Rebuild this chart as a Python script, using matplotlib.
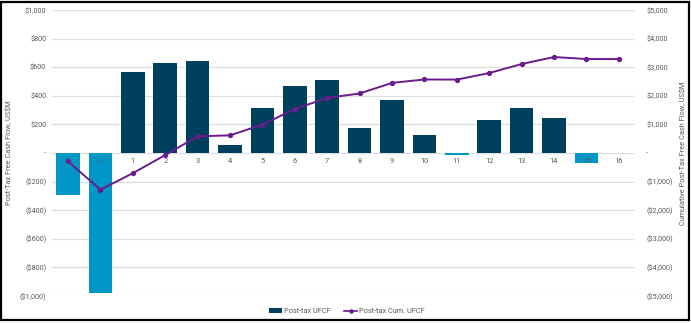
import matplotlib
matplotlib.use("Agg")
import matplotlib.pyplot as plt
from matplotlib.lines import Line2D
from matplotlib.patches import Patch, Rectangle
from matplotlib.ticker import FuncFormatter

plt.rcParams["font.family"] = ["Roboto", "DejaVu Sans"]

# Project years and post-tax unlevered free cash flow, US$M
years = ["-2", "-1", "1", "2", "3", "4", "5", "6", "7", "8",
         "9", "10", "11", "12", "13", "14", "15", "16"]
ufcf = [-290, -980, 566, 629, 641, 56, 312, 471, 513, 177,
        368, 126, -12, 231, 317, 243, -70, 0]
cum_ufcf = [-290, -1280, -705, -70, 585, 620, 995, 1540, 1930, 2085,
            2455, 2575, 2570, 2800, 3115, 3360, 3290, 3290]

DARK = "#00405f"
LIGHT = "#0096c8"
PURPLE = "#6a1b8c"
GRID = "#dedede"
TEXT = "#595959"


def money(v, _pos):
    if abs(v) < 1e-9:
        return "-"
    s = f"${abs(v):,.0f}"
    return f"({s})" if v < 0 else s


fig = plt.figure(figsize=(6.91, 3.23), dpi=100)
ax = fig.add_axes([0.075, 0.0836, 0.844, 0.885])
ax2 = ax.twinx()

x = list(range(len(years)))
colors = [DARK if v >= 0 else LIGHT for v in ufcf]
ax.bar(x, ufcf, width=0.73, color=colors, zorder=2)
ax2.plot(x, cum_ufcf, color=PURPLE, lw=1.4, marker="o", ms=2.8, zorder=3)

ax.set_xlim(-0.5, len(years) - 0.5)
ax.set_ylim(-1000, 1000)
ax2.set_ylim(-5000, 5000)
ax.set_yticks(range(-1000, 1001, 200))
ax2.set_yticks(range(-5000, 5001, 1000))
ax.yaxis.set_major_formatter(FuncFormatter(money))
ax2.yaxis.set_major_formatter(FuncFormatter(money))
ax.grid(axis="y", color=GRID, lw=0.9, zorder=0)
ax.set_axisbelow(True)

# year labels sit just under the zero line, on top of the bars
ax.set_xticks([])
for xi, lab in zip(x, years):
    ax.text(xi, -36, lab, ha="center", va="top", fontsize=5.3,
            color=TEXT, zorder=3)

for a in (ax, ax2):
    for sp in a.spines.values():
        sp.set_visible(False)
    a.tick_params(axis="y", length=0, labelsize=5.2, labelcolor=TEXT)
ax.tick_params(axis="y", pad=4)
ax2.tick_params(axis="y", pad=8)

ax.set_ylabel("Post-Tax Free Cash Flow, US$M", fontsize=5.3, color=TEXT)
ax.yaxis.set_label_coords(-0.067, 0.5)
ax2.set_ylabel("Cumulative Post-Tax Free Cash Flow, US$M", fontsize=5.3,
               color=TEXT, rotation=90)
ax2.yaxis.set_label_coords(1.077, 0.5)

handles = [Patch(facecolor=DARK, label="Post-tax UFCF"),
           Line2D([], [], color=PURPLE, lw=1.2, marker="o", ms=2.2,
                  label="Post-tax Cum. UFCF")]
fig.legend(handles=handles, loc="center", bbox_to_anchor=(0.502, 0.035),
           ncol=2, frameon=False, fontsize=5.3, handlelength=1.8,
           handleheight=0.5, columnspacing=1.8, handletextpad=0.3,
           labelcolor=TEXT)

fig.patches.append(Rectangle((0.002, 0.01), 0.995, 0.985,
                             transform=fig.transFigure, fill=False,
                             edgecolor="black", lw=1.6))

fig.savefig("out.png", dpi=100)
